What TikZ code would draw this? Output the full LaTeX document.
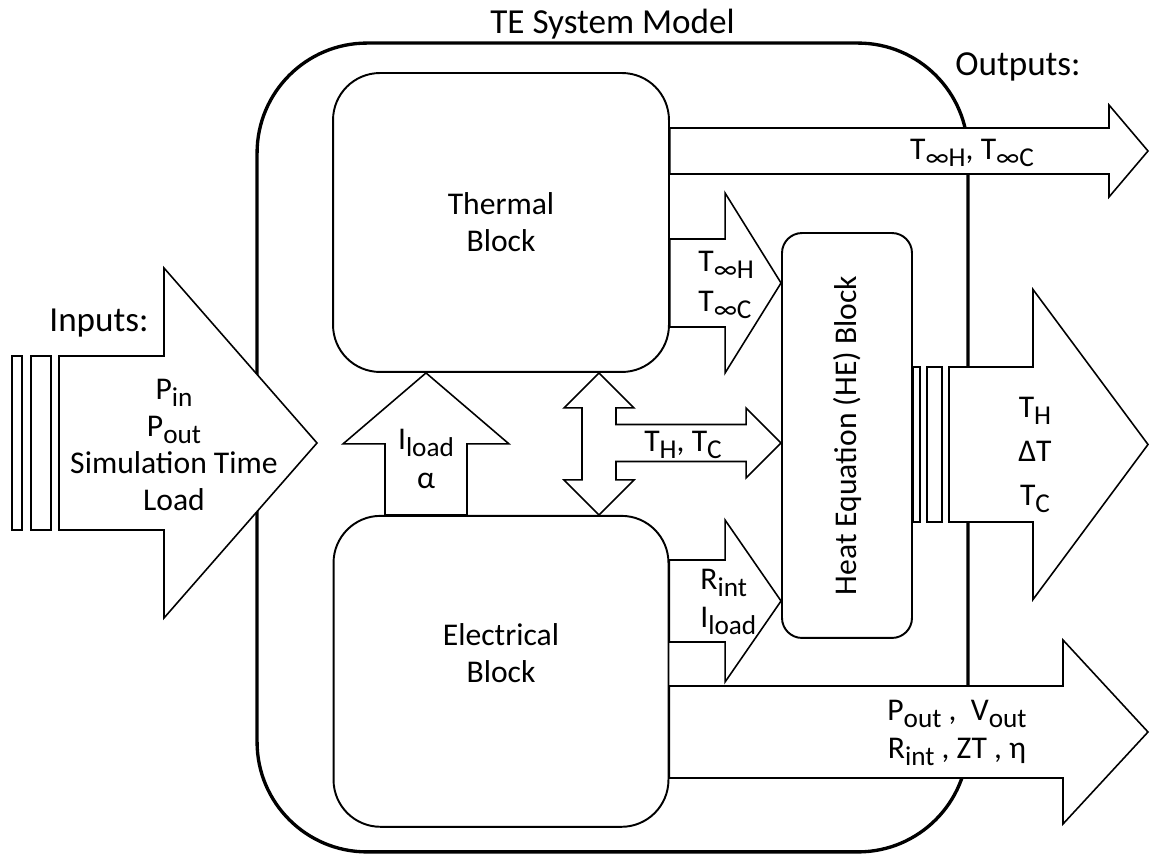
\documentclass[tikz,border=0pt]{standalone}
\usepackage{fontspec}
\setmainfont{Carlito}
\usetikzlibrary{positioning,calc}

\tikzset{
  systembox/.style={draw, line width=1.9pt, rounded corners=2.2cm,
                    minimum width=14.22cm, minimum height=16.18cm},
  block/.style={draw, line width=1.1pt, rounded corners=0.94cm, align=center},
  heblock/.style={draw, line width=1.1pt, rounded corners=0.4cm},
  blockarrow/.style={draw, fill=white, line width=0.9pt, line join=miter},
  bar/.style={draw, fill=white, line width=0.9pt},
  tag/.style={inner sep=0pt, align=center},
  heading/.style={inner sep=0pt, font=\fontsize{20}{24}\selectfont}
}

% lowered subscript, nearly full size
\newcommand{\lsub}[1]{\raisebox{-4pt}{\fontsize{15.5}{15.5}\selectfont #1}}

% block arrow along x: tail, tip, half shaft, half head, head length
\newcommand{\hblockarrow}[5]{%
  \filldraw[blockarrow] ($(#1)+(0,#3)$) -- ($(#2)+(-#5,#3)$) -- ($(#2)+(-#5,#4)$)
    -- (#2) -- ($(#2)+(-#5,-#4)$) -- ($(#2)+(-#5,-#3)$) -- ($(#1)+(0,-#3)$) -- cycle;}
% block arrow along y, pointing up
\newcommand{\vblockarrow}[5]{%
  \filldraw[blockarrow] ($(#1)+(#3,0)$) -- ($(#2)+(#3,-#5)$) -- ($(#2)+(#4,-#5)$)
    -- (#2) -- ($(#2)+(-#4,-#5)$) -- ($(#2)+(-#3,-#5)$) -- ($(#1)+(-#3,0)$) -- cycle;}

\begin{document}
\begin{tikzpicture}[x=0.02cm, y=0.02cm, font=\fontsize{18}{21}\selectfont]
  \useasboundingbox (0,0) rectangle (1150,855);

  \node[systembox] (model) at (612.5,407.5) {};
  \node[heading, above=0.04cm of model] (title) {TE System Model};

  \node[block, minimum width=6.72cm, minimum height=5.98cm] (thermal) at (501,632.5)
    {Thermal\\Block};
  \node[block, minimum width=6.70cm, minimum height=6.22cm, below=2.84cm of thermal] (elec) {};
  \node[tag] (elecname) at ([yshift=0.36cm]elec.center) {Electrical\\Block};
  \node[heblock, minimum width=2.6cm, minimum height=8.1cm] (he) at (847,419.5) {};
  \node[tag, rotate=90] (hename) at (he.center) {Heat Equation (HE) Block};

  % inputs
  \draw[bar] (12,325) rectangle (22,499);
  \draw[bar] (31,325) rectangle (51,499);
  \coordinate (inTail) at (59,412);
  \coordinate (inTip) at (317,412);
  \hblockarrow{inTail}{inTip}{87}{175}{153}
  \node[heading, anchor=base] (inputs) at (99,523) {Inputs:};
  \node[tag] (invals) at (174,410)
    {P\lsub{in}\\P\lsub{out}\\Simulation Time\\Load};

  % electrical to thermal
  \coordinate (upTail) at (elec.north -| 426,0);
  \coordinate (upTip) at (thermal.south -| 426,0);
  \vblockarrow{upTail}{upTip}{41}{83}{71}
  \node[tag] (iload) at (426,396) {I\lsub{load}\\[1pt]α};

  % two way arrow and T_H, T_C
  \coordinate (dblTop) at (thermal.south -| 599,0);
  \coordinate (dblBot) at (elec.north -| 599,0);
  \filldraw[blockarrow] (dblTop) -- ++(35,-35) -- ++(-18,0) -- ($(dblBot)+(17,35)$)
    -- ($(dblBot)+(35,35)$) -- (dblBot) -- ++(-35,35) -- ++(18,0)
    -- ($(dblTop)+(-17,-35)$) -- ++(-18,0) -- cycle;
  \coordinate (thTail) at (615,412);
  \coordinate (thTip) at (he.west |- thTail);
  \filldraw[blockarrow] ($(thTail)+(0,18.5)$) -- ($(thTip)+(-35,18.5)$) -- ($(thTip)+(-35,35)$)
    -- (thTip) -- ($(thTip)+(-35,-35)$) -- ($(thTip)+(-35,-18.5)$) -- ($(thTail)+(0,-18.5)$);
  \node[tag] (thtc) at (683,410) {T\lsub{H}, T\lsub{C}};

  % into the HE block
  \coordinate (tinfTip) at (he.west |- 0,572);
  \coordinate (tinfTail) at (thermal.east |- tinfTip);
  \hblockarrow{tinfTail}{tinfTip}{44}{90}{56}
  \node[tag, align=left, anchor=west] (tinf) at (698,570)
    {T\lsub{∞H}\\[2pt]T\lsub{∞C}};
  \coordinate (rTip) at (he.west |- 0,254);
  \coordinate (rTail) at (elec.east |- rTip);
  \hblockarrow{rTail}{rTip}{41}{81}{56}
  \node[tag, align=left, anchor=west] (rint) at (700,253)
    {R\lsub{int}\\[1pt]I\lsub{load}};

  % outputs
  \node[heading, anchor=base] (outputs) at (1018,779) {Outputs:};
  \coordinate (outTop) at (1148,704);
  \coordinate (outTopTail) at (thermal.east |- outTop);
  \hblockarrow{outTopTail}{outTop}{23}{46}{39}
  \node[tag] (tinfout) at (972,702) {T\lsub{∞H}, T\lsub{∞C}};

  \draw[bar] (he.east |- 0,333) rectangle (920,488);
  \draw[bar] (927,333) rectangle (942,488);
  \coordinate (outMid) at (1148,410.5);
  \coordinate (outMidTail) at (949,410.5);
  \hblockarrow{outMidTail}{outMid}{77.5}{155}{115}
  \node[tag] (tdelta) at (1035,400)
    {T\lsub{H}\\[4pt]ΔT\\[4pt]T\lsub{C}};

  \coordinate (outBot) at (1148,123);
  \coordinate (outBotTail) at (elec.east |- outBot);
  \hblockarrow{outBotTail}{outBot}{46}{92}{85}
  \node[tag] (powout) at (957,122)
    {P\lsub{out} ,\ \ V\lsub{out}\\[1pt]R\lsub{int} , ZT , η};
\end{tikzpicture}
\end{document}
